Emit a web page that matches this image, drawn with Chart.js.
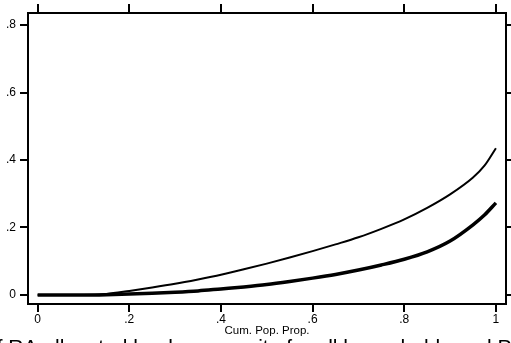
<!DOCTYPE html>
<html>
<head>
<meta charset="utf-8">
<script src="https://cdn.jsdelivr.net/npm/chart.js@4/dist/chart.umd.min.js"></script>
<style>
html,body{margin:0;padding:0;background:#fff;overflow:hidden;}
canvas{display:block;}
</style>
</head>
<body>
<canvas id="c" width="511" height="343"></canvas>
<script>
// Data
const cumPopProp = [0, 0.1, 0.15, 0.2, 0.25, 0.3, 0.35, 0.4, 0.45, 0.5, 0.55, 0.6, 0.65, 0.7, 0.75, 0.8, 0.85, 0.9, 0.95, 0.975, 1.0];
const upperCurve = [0, 0, 0.003, 0.012, 0.022, 0.033, 0.046, 0.060, 0.076, 0.093, 0.111, 0.130, 0.150, 0.171, 0.196, 0.224, 0.258, 0.298, 0.348, 0.383, 0.435];
const lowerCurve = [0, 0, 0.001, 0.003, 0.005, 0.008, 0.012, 0.018, 0.024, 0.031, 0.040, 0.050, 0.061, 0.074, 0.089, 0.106, 0.128, 0.160, 0.208, 0.237, 0.273];
const xTickValues = [0, 0.2, 0.4, 0.6, 0.8, 1];
const yTickValues = [0, 0.2, 0.4, 0.6, 0.8];
const xTitle = 'Cum. Pop. Prop.';
const captionText = 'of RA allocated by decomposite for all households and P';

function fmt(v) {
  if (Math.abs(v) < 1e-9) return '0';
  if (Math.abs(v - 1) < 1e-9) return '1';
  return String(Math.round(v * 10) / 10).replace(/^0/, '');
}

const framePlugin = {
  id: 'frame',
  afterDraw(chart) {
    const ctx = chart.ctx;
    const a = chart.chartArea;
    const xs = chart.scales.x, ys = chart.scales.y;
    ctx.save();
    ctx.strokeStyle = '#000';
    ctx.lineWidth = 2;
    ctx.strokeRect(a.left, a.top, a.right - a.left, a.bottom - a.top);
    ctx.beginPath();
    xTickValues.forEach(v => {
      const px = Math.round(xs.getPixelForValue(v));
      ctx.moveTo(px, a.top);
      ctx.lineTo(px, a.top - 9);
    });
    yTickValues.forEach(v => {
      const py = Math.round(ys.getPixelForValue(v));
      ctx.moveTo(a.right, py);
      ctx.lineTo(a.right + 8, py);
    });
    ctx.stroke();
    ctx.fillStyle = '#000';
    ctx.font = '21px "Liberation Sans", Arial, sans-serif';
    ctx.textAlign = 'left';
    ctx.textBaseline = 'alphabetic';
    ctx.fillText(captionText, -15, 354);
    ctx.restore();
  }
};

new Chart(document.getElementById('c'), {
  type: 'line',
  data: {
    datasets: [
      {
        data: cumPopProp.map((x, i) => ({x: x, y: upperCurve[i]})),
        borderColor: '#000', borderWidth: 2, pointRadius: 0, cubicInterpolationMode: 'monotone', fill: false
      },
      {
        data: cumPopProp.map((x, i) => ({x: x, y: lowerCurve[i]})),
        borderColor: '#000', borderWidth: 3.5, pointRadius: 0, cubicInterpolationMode: 'monotone', fill: false
      }
    ]
  },
  options: {
    responsive: false,
    animation: false,
    plugins: { legend: { display: false }, tooltip: { enabled: false } },
    layout: { padding: { top: 13, right: 5, left: 0, bottom: 0 } },
    scales: {
      x: {
        type: 'linear', position: 'bottom', min: -0.021, max: 1.022,
        afterBuildTicks: s => { s.ticks = xTickValues.map(v => ({value: v})); },
        afterFit: s => { s.height = 39; },
        ticks: { callback: v => fmt(v), color: '#000', padding: 0, maxRotation: 0,
                 font: { family: '"Liberation Sans", Arial, sans-serif', size: 12 } },
        grid: { display: true, drawOnChartArea: false, drawTicks: true, tickLength: 8, lineWidth: 2, color: '#000' },
        border: { display: true, width: 2, color: '#000' },
        title: { display: true, text: xTitle, color: '#000', padding: { top: 0, bottom: 5 },
                 font: { family: '"Liberation Sans", Arial, sans-serif', size: 11.5 } }
      },
      y: {
        type: 'linear', position: 'left', min: -0.0267, max: 0.8356,
        afterBuildTicks: s => { s.ticks = yTickValues.map(v => ({value: v})); },
        afterFit: s => { s.width = 28; },
        ticks: { callback: v => fmt(v), color: '#000', padding: 4,
                 font: { family: '"Liberation Sans", Arial, sans-serif', size: 12 } },
        grid: { display: true, drawOnChartArea: false, drawTicks: true, tickLength: 8, lineWidth: 2, color: '#000' },
        border: { display: true, width: 2, color: '#000' }
      }
    }
  },
  plugins: [framePlugin]
});
</script>
</body>
</html>
